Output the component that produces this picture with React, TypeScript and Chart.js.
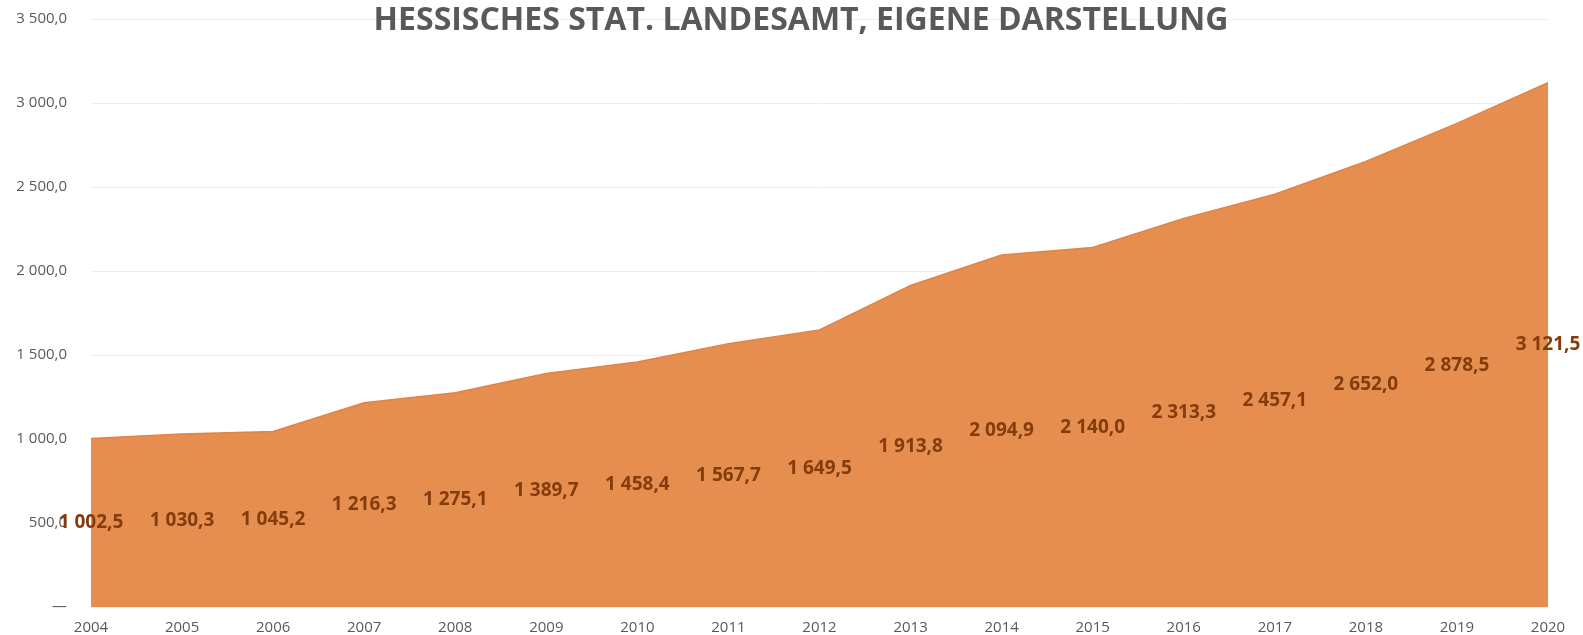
import React, { useEffect, useRef } from "react";
import { Chart, registerables } from "chart.js";

Chart.register(...registerables);

const years = ["2004","2005","2006","2007","2008","2009","2010","2011","2012","2013","2014","2015","2016","2017","2018","2019","2020"];
const values = [1002.5,1030.3,1045.2,1216.3,1275.1,1389.7,1458.4,1567.7,1649.5,1913.8,2094.9,2140.0,2313.3,2457.1,2652.0,2878.5,3121.5];
const titleText = "HESSISCHES STAT. LANDESAMT, EIGENE DARSTELLUNG";

const fmt = (v: number) => {
  const s = v.toFixed(1).replace(".", ",");
  const [i, d] = s.split(",");
  return i.replace(/\B(?=(\d{3})+(?!\d))/g, " ") + "," + d;
};

const W = 1583, H = 635;

export default function App() {
  const ref = useRef<HTMLCanvasElement>(null);
  useEffect(() => {
    const labelPlugin = {
      id: "lbls",
      afterDatasetsDraw(chart: any) {
        const ctx = chart.ctx;
        const xs = chart.scales.x, ys = chart.scales.y;
        ctx.save();
        ctx.font = "bold 19px 'Open Sans'";
        ctx.fillStyle = "#843C0C";
        ctx.textAlign = "center";
        ctx.textBaseline = "middle";
        values.forEach((v, i) => {
          ctx.fillText(fmt(v), xs.getPixelForValue(i), ys.getPixelForValue(v / 2));
        });
        ctx.restore();
      },
      afterDraw(chart: any) {
        const ctx = chart.ctx;
        ctx.save();
        ctx.font = "bold 32px 'Open Sans'";
        ctx.fillStyle = "#595959";
        ctx.textAlign = "center";
        ctx.textBaseline = "middle";
        ctx.fillText(titleText, 801, 21);
        ctx.restore();
      },
    };
    const chart = new Chart(ref.current!, {
      type: "line",
      data: {
        labels: years,
        datasets: [{
          data: values,
          fill: "origin",
          backgroundColor: "#E68D50",
          borderColor: "#DF8446",
          borderWidth: 1.5,
          pointRadius: 0,
          tension: 0,
        }],
      },
      options: {
        animation: false,
        responsive: false,
        layout: { padding: { top: 19, right: 35, left: 0, bottom: 0 } },
        plugins: { legend: { display: false }, tooltip: { enabled: false } },
        scales: {
          x: {
            offset: false,
            grid: { display: false },
            border: { display: false },
            ticks: { color: "#595959", font: { family: "'Open Sans'", size: 15 }, padding: 4, maxRotation: 0, autoSkip: false },
            afterFit(s: any) { s.height = 28; s.paddingLeft = 0; s.paddingRight = 0; },
          },
          y: {
            min: 0, max: 3500,
            grid: { color: "#EEEEEE", drawTicks: false },
            border: { display: false },
            ticks: {
              stepSize: 500,
              color: "#595959",
              font: { family: "'Open Sans'", size: 15 },
              padding: 24,
              callback: (v: any) => (v === 0 ? "—" : fmt(Number(v))),
            },
            afterFit(s: any) { s.width = 91; s.paddingTop = 0; s.paddingBottom = 0; },
          },
        },
      },
      plugins: [labelPlugin],
    });
    return () => chart.destroy();
  }, []);
  return (
    <div style={{ position: "fixed", left: 0, top: 0, width: W, height: H, background: "#fff" }}>
      <canvas ref={ref} width={W} height={H} style={{ width: W, height: H }} />
    </div>
  );
}
